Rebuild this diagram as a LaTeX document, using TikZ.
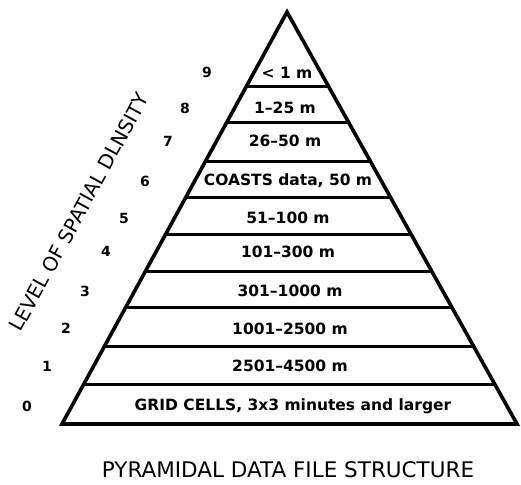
\documentclass[tikz,border=0pt]{standalone}
\usepackage{fontspec}
\setmainfont{DejaVu Sans}
\usetikzlibrary{calc}
\begin{document}
\begin{tikzpicture}[x=1pt,y=-1pt,
  edge/.style={line width=3.6pt,line join=miter,line cap=round},
  divider/.style={line width=3pt},
  band/.style={font=\fontsize{15.5}{17}\selectfont\bfseries,inner sep=0pt},
  lvl/.style={font=\fontsize{14}{16}\selectfont\bfseries,inner sep=0pt},
  caption/.style={font=\fontsize{21.5}{24}\selectfont,inner sep=0pt}]
\useasboundingbox (0,0) rectangle (521,484);
\coordinate (apex) at (287,12);
\coordinate (bl) at (62,424);
\coordinate (br) at (517,424);
\draw[edge] (bl) -- (apex) -- (br) -- cycle;
\foreach \t [count=\i] in {0.095,0.189,0.282,0.369,0.461,0.549,0.638,0.733,0.818}{
  \coordinate (L\i) at ($(bl)!\t!(apex)$);
  \coordinate (R\i) at ($(br)!\t!(apex)$);
  \draw[divider] (L\i) -- (R\i);
}
\node[band] (b0) at (293,406) {GRID CELLS,\ 3x3 minutes and larger};
\node[band] (b1) at (290,366) {2501--4500 m};
\node[band] (b2) at (290,329) {1001--2500 m};
\node[band] (b3) at (290,291) {301--1000 m};
\node[band] (b4) at (288,252) {101--300 m};
\node[band] (b5) at (288,218) {51--100 m};
\node[band] (b6) at (288,181) {COASTS data,\ 50 m};
\node[band] (b7) at (285,141) {26--50 m};
\node[band] (b8) at (285,108) {1--25 m};
\node[band] (b9) at (287,73) {< 1 m};
\node[lvl] (n0) at (27,406) {0};
\node[lvl] (n1) at (47,366) {1};
\node[lvl] (n2) at (66,328) {2};
\node[lvl] (n3) at (85,291) {3};
\node[lvl] (n4) at (106,251) {4};
\node[lvl] (n5) at (124,218) {5};
\node[lvl] (n6) at (145,181) {6};
\node[lvl] (n7) at (168,141) {7};
\node[lvl] (n8) at (185,108) {8};
\node[lvl] (n9) at (207,72) {9};
\node[caption,font=\fontsize{19.8}{23}\selectfont,rotate=61.3] (axis) at (79,212) {LEVEL OF SPATIAL DLNSITY};
\node[caption] (title) at (288,470) {PYRAMIDAL DATA FILE STRUCTURE};
\end{tikzpicture}
\end{document}
